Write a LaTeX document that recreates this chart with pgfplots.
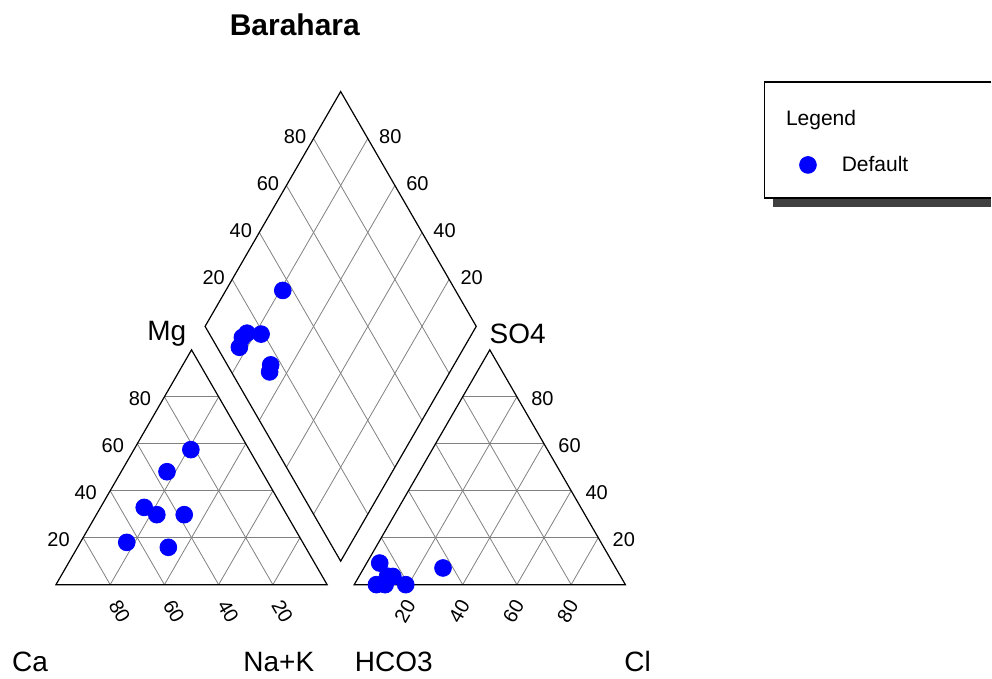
\documentclass[border=0pt]{standalone}
\usepackage{pgfplots}
\pgfplotsset{compat=1.18}
\usepackage{pgfplotstable}
\usepackage{fontspec}
\setmainfont{Liberation Sans}

% sample compositions (percent of meq): cations Na+K, Mg (Ca = rest); anions Cl, SO4 (HCO3 = rest)
\pgfplotstableread{
Na    Mg    Cl    SO4
21.0  57.5  29.2  7.1
16.9  48.1  4.8   9.2
16.1  32.9  11.4  0.0
22.3  29.8  19.0  0.0
17.1  18.0  8.2   0.0
32.4  29.8  12.5  3.5
33.5  15.9  10.5  3.6
}\samples

\newcommand{\tickfont}{\fontsize{10}{12}\selectfont}
\newcommand{\bigfont}{\fontsize{14}{17}\selectfont}

\begin{document}
\begin{tikzpicture}
\begin{axis}[
  hide axis, scale only axis,
  width=496pt, height=338.5pt,
  xmin=-20.64, xmax=345.0, ymin=-33.91, ymax=215.63,
  clip=false,
  legend style={at={(axis cs:274.1,154.8)}, anchor=west, draw=none, fill=none,
    inner sep=0pt, outer sep=0pt, font=\fontsize{10.5}{12}\selectfont,
    /tikz/every odd column/.append style={column sep=10.5pt}},
  legend image code/.code={\fill[blue] (0pt,0pt) circle (4.2pt);},
]
\path (axis cs:-20.64,-33.91) rectangle (axis cs:345.0,215.63);

% ---------- grids ----------
\begin{scope}[black!50, line width=0.4pt]
% left triangle
\draw (axis cs:10,17.32) -- (axis cs:90,17.32);
\draw (axis cs:20,34.64) -- (axis cs:80,34.64);
\draw (axis cs:30,51.96) -- (axis cs:70,51.96);
\draw (axis cs:40,69.28) -- (axis cs:60,69.28);
\draw (axis cs:20,0) -- (axis cs:60,69.28);
\draw (axis cs:40,0) -- (axis cs:70,51.96);
\draw (axis cs:60,0) -- (axis cs:80,34.64);
\draw (axis cs:80,0) -- (axis cs:90,17.32);
\draw (axis cs:20,0) -- (axis cs:10,17.32);
\draw (axis cs:40,0) -- (axis cs:20,34.64);
\draw (axis cs:60,0) -- (axis cs:30,51.96);
\draw (axis cs:80,0) -- (axis cs:40,69.28);
% right triangle
\draw (axis cs:120,17.32) -- (axis cs:200,17.32);
\draw (axis cs:130,34.64) -- (axis cs:190,34.64);
\draw (axis cs:140,51.96) -- (axis cs:180,51.96);
\draw (axis cs:150,69.28) -- (axis cs:170,69.28);
\draw (axis cs:130,0) -- (axis cs:170,69.28);
\draw (axis cs:150,0) -- (axis cs:180,51.96);
\draw (axis cs:170,0) -- (axis cs:190,34.64);
\draw (axis cs:190,0) -- (axis cs:200,17.32);
\draw (axis cs:130,0) -- (axis cs:120,17.32);
\draw (axis cs:150,0) -- (axis cs:130,34.64);
\draw (axis cs:170,0) -- (axis cs:140,51.96);
\draw (axis cs:190,0) -- (axis cs:150,69.28);
% diamond
\draw (axis cs:65,77.94) -- (axis cs:115,164.54);
\draw (axis cs:75,60.62) -- (axis cs:125,147.22);
\draw (axis cs:85,43.30) -- (axis cs:135,129.90);
\draw (axis cs:95,25.98) -- (axis cs:145,112.58);
\draw (axis cs:115,25.98) -- (axis cs:65,112.58);
\draw (axis cs:125,43.30) -- (axis cs:75,129.90);
\draw (axis cs:135,60.62) -- (axis cs:85,147.22);
\draw (axis cs:145,77.94) -- (axis cs:95,164.54);
\end{scope}

% ---------- outlines ----------
\begin{scope}[black, line width=0.6pt, line join=miter]
\draw (axis cs:0,0) -- (axis cs:100,0) -- (axis cs:50,86.60) -- cycle;
\draw (axis cs:110,0) -- (axis cs:210,0) -- (axis cs:160,86.60) -- cycle;
\draw (axis cs:55,95.26) -- (axis cs:105,181.87) -- (axis cs:155,95.26) -- (axis cs:105,8.66) -- cycle;
\end{scope}

% ---------- tick labels ----------
\begin{scope}[font=\tickfont, inner sep=0pt]
% Mg (left triangle, left side)
\node[anchor=east, xshift=-6.5pt, yshift=-1pt] at (axis cs:10,17.32) {20};
\node[anchor=east, xshift=-6.5pt, yshift=-1pt] at (axis cs:20,34.64) {40};
\node[anchor=east, xshift=-6.5pt, yshift=-1pt] at (axis cs:30,51.96) {60};
\node[anchor=east, xshift=-6.5pt, yshift=-1pt] at (axis cs:40,69.28) {80};
% Ca (left triangle, bottom)
\node[rotate=-60] at (axis cs:23.5,-9.8) {80};
\node[rotate=-60] at (axis cs:43.5,-9.8) {60};
\node[rotate=-60] at (axis cs:63.5,-9.8) {40};
\node[rotate=-60] at (axis cs:83.5,-9.8) {20};
% Cl (right triangle, bottom)
\node[rotate=60] at (axis cs:128.7,-9.8) {20};
\node[rotate=60] at (axis cs:148.7,-9.8) {40};
\node[rotate=60] at (axis cs:168.7,-9.8) {60};
\node[rotate=60] at (axis cs:188.7,-9.8) {80};
% SO4 (right triangle, right side)
\node[anchor=west, xshift=7pt, yshift=-1pt] at (axis cs:200,17.32) {20};
\node[anchor=west, xshift=7pt, yshift=-1pt] at (axis cs:190,34.64) {40};
\node[anchor=west, xshift=7pt, yshift=-1pt] at (axis cs:180,51.96) {60};
\node[anchor=west, xshift=7pt, yshift=-1pt] at (axis cs:170,69.28) {80};
% diamond upper left (SO4+Cl)
\node[anchor=east, xshift=-3.5pt, yshift=1pt] at (axis cs:65,112.58) {20};
\node[anchor=east, xshift=-3.5pt, yshift=1pt] at (axis cs:75,129.90) {40};
\node[anchor=east, xshift=-3.5pt, yshift=1pt] at (axis cs:85,147.22) {60};
\node[anchor=east, xshift=-3.5pt, yshift=1pt] at (axis cs:95,164.54) {80};
% diamond upper right (Ca+Mg)
\node[anchor=west, xshift=5.5pt, yshift=1pt] at (axis cs:145,112.58) {20};
\node[anchor=west, xshift=5.5pt, yshift=1pt] at (axis cs:135,129.90) {40};
\node[anchor=west, xshift=5.5pt, yshift=1pt] at (axis cs:125,147.22) {60};
\node[anchor=west, xshift=5.5pt, yshift=1pt] at (axis cs:115,164.54) {80};
\end{scope}

% ---------- names ----------
\node[font=\bigfont] at (axis cs:-9.58,-28.4) {Ca};
\node[font=\bigfont] at (axis cs:82.2,-28.4) {Na+K};
\node[font=\bigfont] at (axis cs:124.6,-28.4) {HCO3};
\node[font=\bigfont] at (axis cs:214.5,-28.4) {Cl};
\node[font=\bigfont] at (axis cs:40.9,92.6) {Mg};
\node[font=\bigfont] at (axis cs:170.3,92.6) {SO4};
\node[font=\bfseries\fontsize{15}{18}\selectfont] at (axis cs:88.1,206.4) {Barahara};

% ---------- legend frame ----------
\fill[black!75] (axis cs:264.3,139.3) rectangle (axis cs:345.0,142.6);
\draw[line width=0.6pt] (axis cs:345.0,185.4) -- (axis cs:261.3,185.4) -- (axis cs:261.3,142.6) -- (axis cs:345.0,142.6);
\node[anchor=west, inner sep=0pt, font=\fontsize{10.5}{12}\selectfont] at (axis cs:269.1,171.4) {Legend};

% ---------- data ----------
\addplot[only marks, mark=*, mark size=4.2pt, mark options={draw=blue, fill=blue}]
  table[x expr=\thisrow{Na}+0.5*\thisrow{Mg}, y expr=0.8660*\thisrow{Mg}] {\samples};
\addlegendentry{Default}
\addplot[only marks, mark=*, mark size=4.2pt, mark options={draw=blue, fill=blue}, forget plot]
  table[x expr=110+\thisrow{Cl}+0.5*\thisrow{SO4}, y expr=0.8660*\thisrow{SO4}] {\samples};
\addplot[only marks, mark=*, mark size=4.2pt, mark options={draw=blue, fill=blue}, forget plot]
  table[x expr=0.5*(\thisrow{Na}+110+\thisrow{Cl}+\thisrow{SO4}),
        y expr=0.8660*(110+\thisrow{Cl}+\thisrow{SO4}-\thisrow{Na})] {\samples};
\end{axis}
\end{tikzpicture}
\end{document}
